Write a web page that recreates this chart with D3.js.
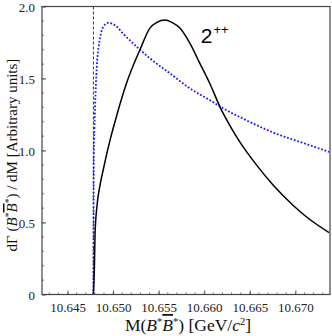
<!DOCTYPE html>
<html>
<head>
<meta charset="utf-8">
<script src="https://cdnjs.cloudflare.com/ajax/libs/d3/7.8.5/d3.min.js"></script>
<style>
  body { margin: 0; background: #fff; }
  svg text { font-family: "Liberation Serif", "DejaVu Serif", serif; }
</style>
</head>
<body>
<div id="main"></div>
<script>
const threshold = 10.64784;

// solid black: 2++ line shape
const blackMass = [10.64784, 10.64795, 10.64802, 10.64824, 10.64857, 10.64893, 10.64966, 10.65021, 10.65149, 10.65295, 10.65404, 10.65481, 10.65569, 10.65645, 10.65733, 10.65842, 10.65952, 10.66060, 10.66190, 10.66299, 10.66390, 10.66573, 10.66755, 10.66974, 10.67120, 10.67370];
const blackVal = [0, 0.19, 0.42, 0.62, 0.76, 0.87, 1.07, 1.20, 1.47, 1.70, 1.85, 1.89, 1.906, 1.89, 1.85, 1.745, 1.605, 1.467, 1.28, 1.154, 1.06, 0.90, 0.76, 0.62, 0.54, 0.43];

// dotted blue curve
const blueMass = [10.64784, 10.64788, 10.64795, 10.64802, 10.64821, 10.64857, 10.64893, 10.64948, 10.65021, 10.65112, 10.65295, 10.65404, 10.65623, 10.65842, 10.66060, 10.66207, 10.66463, 10.66755, 10.67120, 10.67370];
const blueVal = [0, 0.95, 1.15, 1.30, 1.58, 1.78, 1.86, 1.887, 1.87, 1.81, 1.70, 1.64, 1.536, 1.432, 1.35, 1.293, 1.21, 1.125, 1.045, 0.99];

// red line below threshold
const redMass = [10.6422, threshold];
const redVal = [0, 0];

const xTicks = [10.645, 10.650, 10.655, 10.660, 10.665, 10.670];
const yTicks = [0, 0.5, 1.0, 1.5, 2.0];
const yTickLabels = ["0", "0.5", "1.0", "1.5", "2.0"];

const width = 332, height = 336;
const margin = { left: 42, right: 2, top: 6.5, bottom: 41.5 };

const x = d3.scaleLinear()
  .domain([10.6422, 10.6738])
  .range([margin.left, width - margin.right]);

const y = d3.scaleLinear()
  .domain([0, 2.0])
  .range([height - margin.bottom, margin.top]);

const svg = d3.select("#main")
  .append("svg")
  .attr("width", width)
  .attr("height", height);

// minor ticks
const xMinor = d3.range(10.643, 10.6735, 0.001);
const yMinor = d3.range(0, 2.0001, 0.1);

svg.append("g")
  .selectAll("line")
  .data(xMinor)
  .enter()
  .append("line")
  .attr("x1", d => x(d)).attr("x2", d => x(d))
  .attr("y1", y(0)).attr("y2", y(0) - 2)
  .attr("stroke", "#555").attr("stroke-width", 0.8);

svg.append("g")
  .selectAll("line")
  .data(yMinor)
  .enter()
  .append("line")
  .attr("x1", x.range()[0]).attr("x2", x.range()[0] + 2)
  .attr("y1", d => y(d)).attr("y2", d => y(d))
  .attr("stroke", "#555").attr("stroke-width", 0.8);

const xAxis = d3.axisBottom(x)
  .tickValues(xTicks)
  .tickSizeInner(-4)
  .tickSizeOuter(0)
  .tickPadding(8)
  .tickFormat(d3.format(".3f"));

const yAxis = d3.axisLeft(y)
  .tickValues(yTicks)
  .tickSizeInner(-4)
  .tickSizeOuter(0)
  .tickPadding(7)
  .tickFormat((d, i) => yTickLabels[i]);

const gx = svg.append("g")
  .attr("transform", "translate(0," + y(0) + ")")
  .call(xAxis);
const gy = svg.append("g")
  .attr("transform", "translate(" + x.range()[0] + ",0)")
  .call(yAxis);

[gx, gy].forEach(g => {
  g.select(".domain").remove();
  g.selectAll(".tick line").attr("stroke", "#555");
  g.selectAll(".tick text")
    .attr("fill", "#222")
    .style("font-size", "13px")
    .style("font-family", "Liberation Serif, serif");
});
gy.selectAll(".tick text").attr("dy", "0.35em");

const line = d3.line()
  .x(d => x(d[0]))
  .y(d => y(d[1]))
  .curve(d3.curveMonotoneX);

const plot = svg.append("g");
plot.append("clipPath").attr("id", "clip")
  .append("rect")
  .attr("x", x.range()[0]).attr("y", y.range()[1])
  .attr("width", x.range()[1] - x.range()[0])
  .attr("height", y.range()[0] - y.range()[1]);

const inner = plot.append("g").attr("clip-path", "url(#clip)");

inner.append("path")
  .datum(d3.zip(redMass, redVal))
  .attr("d", line)
  .attr("fill", "none")
  .attr("stroke", "#d33")
  .attr("stroke-width", 1);

inner.append("line")
  .attr("x1", x(threshold)).attr("x2", x(threshold))
  .attr("y1", y(0)).attr("y2", y(2.0))
  .attr("stroke", "#333")
  .attr("stroke-width", 1)
  .attr("stroke-dasharray", "3,2");

inner.append("path")
  .datum(d3.zip(blueMass, blueVal))
  .attr("d", line)
  .attr("fill", "none")
  .attr("stroke", "#1a1aff")
  .attr("stroke-width", 1.8)
  .attr("stroke-dasharray", "1.8,1.8");

inner.append("path")
  .datum(d3.zip(blackMass, blackVal))
  .attr("d", line)
  .attr("fill", "none")
  .attr("stroke", "#000")
  .attr("stroke-width", 1.5);

// frame
svg.append("rect")
  .attr("x", x.range()[0]).attr("y", y.range()[1])
  .attr("width", x.range()[1] - x.range()[0])
  .attr("height", y.range()[0] - y.range()[1])
  .attr("fill", "none")
  .attr("stroke", "#444")
  .attr("stroke-width", 1.2);

// 2++ label
const lab = svg.append("text")
  .attr("x", x(10.65962))
  .attr("y", y(1.745))
  .style("font-family", "Liberation Sans, Arial, sans-serif")
  .style("font-size", "21px")
  .attr("fill", "#000");
lab.append("tspan").text("2");
lab.append("tspan").attr("dx", 1).attr("dy", -9).style("font-size", "13px").text("++");

// x label
const xl = svg.append("text")
  .attr("x", 188)
  .attr("y", 331)
  .attr("text-anchor", "middle")
  .style("font-size", "17.5px")
  .attr("fill", "#111");
xl.append("tspan").text("M(");
xl.append("tspan").style("font-style", "italic").text("B");
xl.append("tspan").attr("dy", -6).style("font-size", "10.5px").text("*");
xl.append("tspan").attr("dy", 6).style("font-style", "italic").style("text-decoration", "overline").text("B");
xl.append("tspan").attr("dy", -6).style("font-size", "10.5px").text("*");
xl.append("tspan").attr("dy", 6).text(") [GeV/");
xl.append("tspan").style("font-style", "italic").text("c");
xl.append("tspan").attr("dy", -6).style("font-size", "10.5px").text("2");
xl.append("tspan").attr("dy", 6).text("]");

// y label
const yl = svg.append("text")
  .attr("transform", "translate(17," + 155 + ") rotate(-90)")
  .attr("text-anchor", "middle")
  .style("font-size", "15px")
  .attr("fill", "#111");
yl.append("tspan").text("dΓ (");
yl.append("tspan").style("font-style", "italic").text("B");
yl.append("tspan").attr("dy", -5).style("font-size", "9.5px").text("*");
yl.append("tspan").attr("dy", 5).style("font-style", "italic").style("text-decoration", "overline").text("B");
yl.append("tspan").attr("dy", -5).style("font-size", "9.5px").text("*");
yl.append("tspan").attr("dy", 5).text(") / dM  [Arbitrary units]");
</script>
</body>
</html>
